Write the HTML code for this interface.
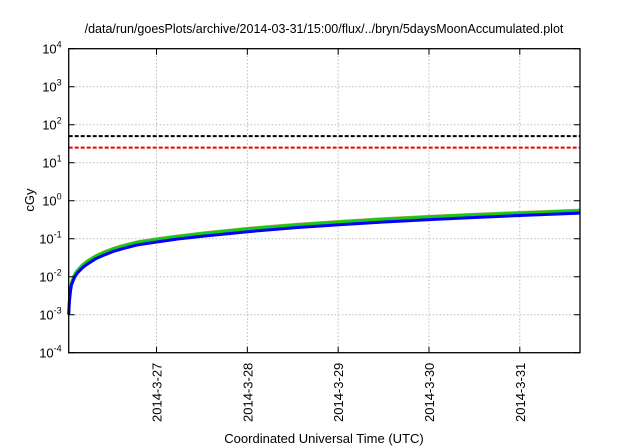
<!DOCTYPE html>
<html><head><meta charset="utf-8"><style>
body{margin:0;background:#fff;}
svg{display:block;font-family:"Liberation Sans",sans-serif;}
</style></head><body>
<svg id="chart" width="640" height="448">
<text x="324" y="33" font-size="12.5" text-anchor="middle">/data/run/goesPlots/archive/2014-03-31/15:00/flux/../bryn/5daysMoonAccumulated.plot</text>
<text x="34" y="200" font-size="13" text-anchor="middle" transform="rotate(-90 34 200)">cGy</text>
<text x="324" y="443" font-size="13" text-anchor="middle">Coordinated Universal Time (UTC)</text>
<g id="grid"></g><g id="series"></g><g id="axes"></g>
</svg>
<script>
const yTickExps=[-4,-3,-2,-1,0,1,2,3,4];
const xTickLabels=["2014-3-27","2014-3-28","2014-3-29","2014-3-30","2014-3-31"];
const xTickDays=[0.967,1.967,2.967,3.967,4.967];
const tDays=[0,0.005,0.01,0.02,0.03,0.05,0.07,0.1,0.15,0.2,0.3,0.4,0.5,0.6,0.75,0.97,1.2,1.5,2,2.5,3,3.5,4,4.5,5,5.63];
const greenVals=[0.001,0.002,0.003,0.005,0.007,0.0095,0.012,0.015,0.02,0.025,0.035,0.045,0.055,0.065,0.08,0.097,0.115,0.14,0.185,0.232,0.28,0.33,0.38,0.43,0.48,0.55];
const blueVals=[0.001,0.0017,0.0025,0.0042,0.006,0.008,0.0102,0.0128,0.017,0.021,0.03,0.038,0.047,0.055,0.068,0.082,0.098,0.118,0.155,0.195,0.235,0.278,0.32,0.365,0.41,0.47];
const thresholds=[50,25];
const thresholdColors=["#000","#e00"];
const L=68.7,R=580,T=48.7,B=352.7,D0=0,D1=5.63;
const xs=d=>L+(d-D0)/(D1-D0)*(R-L);
const ys=v=>B-(Math.log10(v)+4)/8*(B-T);
const NS="http://www.w3.org/2000/svg";
function mk(tag,parent,attrs){const e=document.createElementNS(NS,tag);for(const k in attrs)e.setAttribute(k,attrs[k]);parent.appendChild(e);return e;}
const grid=document.getElementById('grid'),ser=document.getElementById('series'),ax=document.getElementById('axes');
yTickExps.forEach(e=>{const y=ys(Math.pow(10,e));
 if(e>-4&&e<4){const g=mk('line',grid,{x1:L,x2:R,y1:y,y2:y,stroke:'#bbb','stroke-dasharray':'1.5,2','stroke-width':1});
 
 }
 const tk=mk('path',ax,{d:`M${L} ${y}h6M${R} ${y}h-6`,stroke:'#000','stroke-width':1});
 
 
 const t=mk('text',ax,{x:L-7,y:y+5,'font-size':13,'text-anchor':'end'});
 
 
 t.innerHTML=`10<tspan dy="-6" font-size="9">${e}</tspan>`;
});
xTickDays.forEach((d,i)=>{const x=xs(d);
 const g=mk('line',grid,{x1:x,x2:x,y1:T,y2:B,stroke:'#bbb','stroke-dasharray':'1.5,2','stroke-width':1});
 
 
 const tk=mk('path',ax,{d:`M${x} ${B}v-6M${x} ${T}v6`,stroke:'#000','stroke-width':1});
 
 
 const t=mk('text',ax,{x:x+5,y:B+10,'font-size':13,'text-anchor':'end',transform:`rotate(-90 ${x+5} ${B+10})`});
 
 
 t.textContent=xTickLabels[i];
});
thresholds.forEach((v,i)=>{const y=ys(v);
 const l=mk('line',ser,{x1:L,x2:R,y1:y,y2:y,stroke:thresholdColors[i],'stroke-width':2,'stroke-dasharray':'4,2'});
 
 
});
function line(vals,color,w,name){const p=mk('polyline',ser,{points:tDays.map((d,i)=>xs(d)+','+ys(vals[i])).join(' '),fill:'none',stroke:color,'stroke-width':w,'stroke-linejoin':'round'});
 
 }
line(greenVals.map(v=>v*1.06),'#d89a7a',2,'series-red-line');
line(greenVals,'#1c1','3','series-green-line');
line(blueVals,'#00f','3','series-blue-line');
const fr=mk('rect',ax,{x:L,y:T,width:R-L,height:B-T,fill:'none',stroke:'#000','stroke-width':1.3});


</script>
</body></html>
